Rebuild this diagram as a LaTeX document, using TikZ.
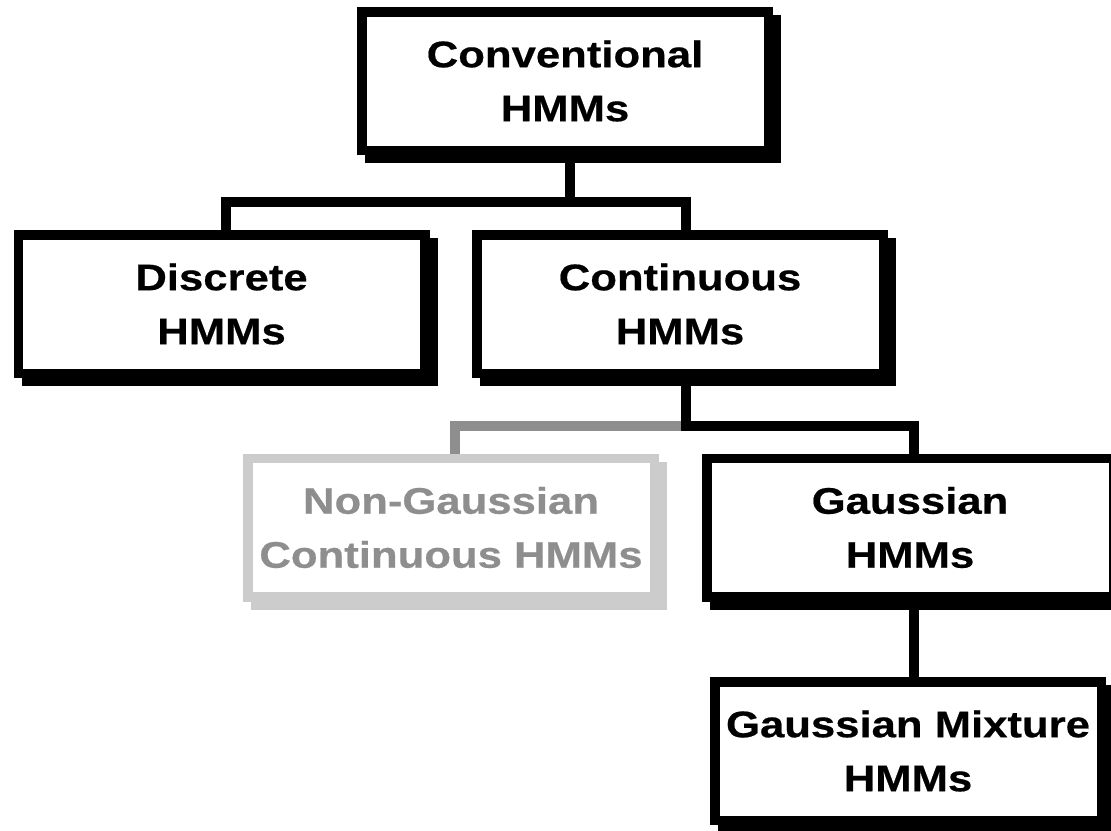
\documentclass[tikz,border=0pt]{standalone}
\usepackage{fontspec}
\setmainfont{Liberation Sans}[FakeStretch=1.18,FakeBold=0.5]
\usetikzlibrary{shadows,backgrounds}
\definecolor{boxgray}{HTML}{CCCCCC}
\definecolor{txtgray}{HTML}{8E8E8E}

\begin{document}
\begin{tikzpicture}[x=0.5pt,y=-0.5pt,line join=miter,
    hmm/.style={draw=#1,line width=4.75pt,fill=white,align=center,inner sep=0pt,
      minimum width=203.25pt,minimum height=69.25pt,
      font=\fontsize{18.5}{27}\selectfont\bfseries,
      drop shadow={shadow xshift=4pt,shadow yshift=-4pt,opacity=1,
        fill=#1,draw=#1,line width=4.75pt}},
    hmm/.default=black,
    link/.style={draw=#1,line width=4.75pt},
    link/.default=black]
  \useasboundingbox (0,0) rectangle (1111,830);
  % boxes
  \node[hmm] (conv) at (565,81) {Conventional\\HMMs};
  \node[hmm] (disc) at (221.5,304) {Discrete\\HMMs};
  \node[hmm] (cont) at (680,304) {Continuous\\HMMs};
  \node[hmm=boxgray,text=txtgray] (nong) at (451,527.5) {Non-Gaussian\\Continuous HMMs};
  \node[hmm] (gaus) at (910,527.5) {Gaussian\\HMMs};
  \node[hmm,minimum width=193.25pt] (mix) at (908,751) {Gaussian Mixture\\HMMs};
  % connectors
  \begin{scope}[on background layer]
    \coordinate (j1) at ([shift={(5,47)}]conv.south);
    \coordinate (j2) at ([shift={(6,48)}]cont.south);
    \draw[link] ([xshift=2.5pt]conv.south) -- (j1);
    \draw[link] ([xshift=2.25pt]disc.north) |- (j1) -| ([xshift=3pt]cont.north);
    \draw[link=txtgray] (j2) -| ([xshift=2pt]nong.north);
    \draw[link] ([xshift=3pt]cont.south) -- (j2) -| ([xshift=2pt]gaus.north);
    \draw[link] ([xshift=2pt]gaus.south) -- ([xshift=3pt]mix.north);
  \end{scope}
\end{tikzpicture}
\end{document}
